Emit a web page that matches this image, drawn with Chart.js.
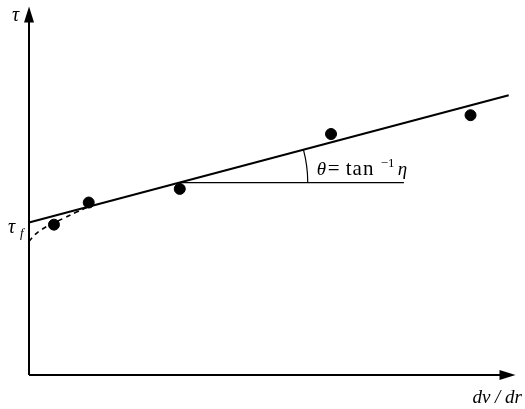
<!DOCTYPE html>
<html>
<head>
<meta charset="utf-8">
<script src="https://cdn.jsdelivr.net/npm/chart.js@4/dist/chart.umd.min.js"></script>
<style>
  html, body { margin: 0; padding: 0; background: #fff; }
  canvas { display: block; }
</style>
</head>
<body>
<canvas id="c" width="525" height="409"></canvas>
<script>
// Measured shear rate / shear stress points
const shearRates = [5.1, 12.2, 30.8, 61.7, 90.2];
const shearStresses = [40.8, 46.8, 50.5, 65.4, 70.5];

// Bingham fit line (yield stress intercept and plastic viscosity slope)
const fitX = [0, 98];
const fitY = [41.4, 75.9];

// Low-rate curvature below the straight-line fit
const curveX = [0, 1, 2.5, 4.5, 7, 9.5, 12];
const curveY = [36.2, 37.8, 39.4, 40.9, 42.5, 44.1, 45.6];

// Horizontal reference for the slope angle
const refX = [30.8, 76.6];
const refY = [52.2, 52.2];

const SERIF = '"Liberation Serif", "DejaVu Serif", serif';

const toPoints = (xs, ys) => xs.map((x, i) => ({ x, y: ys[i] }));

const decorations = {
  id: 'decorations',
  afterDatasetsDraw(chart) {
    const { ctx, chartArea: a, scales } = chart;
    const xs = scales.x, ys = scales.y;
    ctx.save();
    ctx.strokeStyle = '#000';
    ctx.fillStyle = '#000';

    // axes with arrowheads
    const ox = xs.getPixelForValue(0), oy = ys.getPixelForValue(0);
    const yTip = a.top, xTip = a.right - 3;
    ctx.lineWidth = 2;
    ctx.beginPath();
    ctx.moveTo(ox, oy); ctx.lineTo(ox, yTip + 10);
    ctx.moveTo(ox, oy); ctx.lineTo(xTip - 10, oy);
    ctx.stroke();
    ctx.beginPath();
    ctx.moveTo(ox, yTip); ctx.lineTo(ox - 5, yTip + 16); ctx.lineTo(ox + 5, yTip + 16); ctx.closePath();
    ctx.fill();
    ctx.beginPath();
    ctx.moveTo(xTip, oy); ctx.lineTo(xTip - 16, oy - 5); ctx.lineTo(xTip - 16, oy + 5); ctx.closePath();
    ctx.fill();

    // angle arc between the reference line and the fit line
    const cx = xs.getPixelForValue(refX[0]), cy = ys.getPixelForValue(refY[0]);
    const ex = xs.getPixelForValue(fitX[1]), ey = ys.getPixelForValue(fitY[1]);
    const ang = Math.atan2(ey - cy, ex - cx);
    ctx.lineWidth = 1.2;
    ctx.beginPath();
    ctx.arc(cx, cy, 128, ang, 0);
    ctx.stroke();

    // angle label
    const lx = cx + 137, ly = cy - 8;
    ctx.textBaseline = 'alphabetic';
    ctx.textAlign = 'left';
    ctx.font = 'italic 19px ' + SERIF;
    ctx.fillText('θ', lx, ly);
    ctx.font = '21px ' + SERIF;
    ctx.fillText('=', lx + 11, ly);
    ctx.letterSpacing = '1px';
    ctx.fillText('tan', lx + 29, ly);
    ctx.letterSpacing = '0px';
    ctx.font = '13px ' + SERIF;
    ctx.fillText('−1', lx + 64, ly - 8);
    ctx.font = 'italic 19px ' + SERIF;
    ctx.fillText('η', lx + 81, ly);

    // axis labels
    ctx.font = 'italic 20px ' + SERIF;
    ctx.fillText('τ', 12, 21);
    const fy = ys.getPixelForValue(fitY[0]);
    ctx.fillText('τ', 8, fy + 11);
    ctx.font = 'italic 13px ' + SERIF;
    ctx.fillText('f', 20, fy + 15);
    ctx.font = 'italic 19px ' + SERIF;
    ctx.textAlign = 'right';
    ctx.fillText('dv / dr', 522, 403);
    ctx.restore();
  }
};

new Chart(document.getElementById('c'), {
  type: 'scatter',
  data: {
    datasets: [
      {
        data: toPoints(fitX, fitY), showLine: true, borderColor: '#000',
        borderWidth: 2, pointRadius: 0, clip: false
      },
      {
        data: toPoints(curveX, curveY), showLine: true, borderColor: '#000',
        borderWidth: 1.6, borderDash: [5, 4], tension: 0.4, pointRadius: 0, clip: false
      },
      {
        data: toPoints(refX, refY), showLine: true, borderColor: '#000',
        borderWidth: 1.2, pointRadius: 0, clip: false
      },
      {
        data: toPoints(shearRates, shearStresses), showLine: false,
        pointRadius: 5.5, pointBackgroundColor: '#000', pointBorderColor: '#000', clip: false
      }
    ]
  },
  options: {
    responsive: false,
    devicePixelRatio: 1,
    animation: false,
    layout: { padding: { left: 29, right: 5, top: 5, bottom: 34 } },
    plugins: { legend: { display: false }, tooltip: { enabled: false } },
    scales: {
      x: { type: 'linear', min: 0, max: 100, display: false },
      y: { type: 'linear', min: 0, max: 100, display: false }
    }
  },
  plugins: [decorations]
});
</script>
</body>
</html>
